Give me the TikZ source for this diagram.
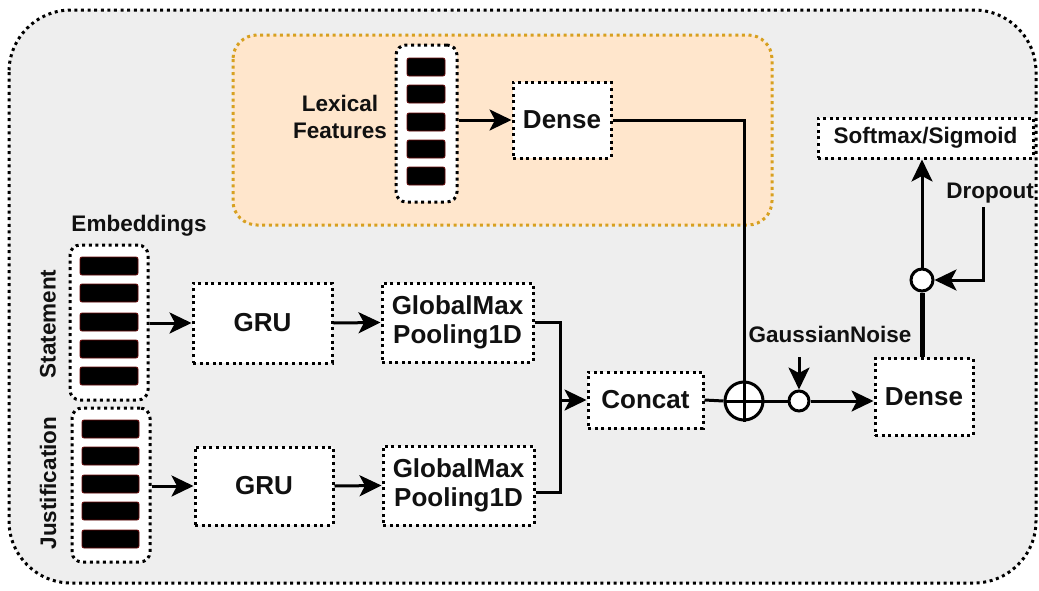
\documentclass[tikz,border=0pt]{standalone}
\usepackage{fontspec}
\setmainfont{Liberation Sans}
\usetikzlibrary{arrows.meta,calc}
\definecolor{panelgrey}{HTML}{EEEEEE}
\definecolor{lexfill}{HTML}{FFE6CC}
\definecolor{lexline}{HTML}{D7A020}
\definecolor{barline}{HTML}{6A0A0A}
\definecolor{ink}{HTML}{111111}
\begin{document}
\begin{tikzpicture}[x=1pt,y=-1pt,
  dots/.style={line width=3pt, line cap=butt, dash pattern=on 3pt off 3.6pt},
  box/.style={dots, draw=black, fill=white, inner sep=0pt, align=center, text=ink,
    font=\fontsize{26}{29}\selectfont\bfseries},
  vecbox/.style={dots, draw=black, fill=white, rounded corners=10pt},
  bar/.style={fill=black, draw=barline, line width=0.8pt, rounded corners=2pt},
  lbl/.style={font=\fontsize{22.5}{27}\selectfont\bfseries, align=center, inner sep=0pt, text=ink},
  conn/.style={line width=3pt, draw=black},
  arr/.style={conn, -{Stealth[length=22pt,width=21pt,inset=5.5pt]}},
  junction/.style={circle, draw=black, fill=white, line width=3pt, inner sep=0pt}]

\useasboundingbox (0,0) rectangle (1039,590);

% outer panel
\draw[dots, fill=panelgrey, rounded corners=62pt] (9,10) rectangle (1036,583);

% lexical feature branch panel
\draw[dots, draw=lexline, fill=lexfill, rounded corners=24pt] (233,35) rectangle (772,225);

% input vectors
\node[vecbox, minimum width=61pt, minimum height=157pt] (lex) at (426.5,123.5) {};
\node[vecbox, minimum width=78pt, minimum height=155pt] (stmt) at (109,322.5) {};
\node[vecbox, minimum width=78pt, minimum height=154pt] (just) at (111,485) {};
\foreach \t in {58,85,113,140,167}
  \draw[bar] (407,\t) rectangle (445,\t+18);
\foreach \t in {257,284,313,340,367}
  \draw[bar] (80,\t) rectangle (138,\t+18);
\foreach \t in {420,447,475,502,530}
  \draw[bar] (82,\t) rectangle (139,\t+18);

% labels
\node[lbl] (lexlbl) at (340,117) {Lexical\\Features};
\node[lbl] (emblbl) at (139,226) {Embeddings};
\node[lbl, rotate=90] (stmtlbl) at (48,324) {Statement};
\node[lbl, rotate=90] (justlbl) at (48,483) {Justification};
\node[lbl] (gnlbl) at (830,334) {GaussianNoise};
\node[lbl] (droplbl) at (990,193) {Dropout};

% layers
\node[box, minimum width=98pt, minimum height=76pt] (dense1) at (562,120) {Dense};
\node[box, minimum width=139pt, minimum height=80pt] (gru1) at (262.5,323) {GRU};
\node[box, minimum width=138pt, minimum height=78pt] (gru2) at (264,486) {GRU};
\node[box, minimum width=151pt, minimum height=79pt] (gm1) at (457.5,322.5) {GlobalMax\\Pooling1D};
\node[box, minimum width=151pt, minimum height=79pt] (gm2) at (458.5,485.5) {GlobalMax\\Pooling1D};
\node[box, minimum width=115pt, minimum height=56pt] (concat) at (645.5,400) {Concat};
\node[box, minimum width=98pt, minimum height=77pt] (dense2) at (924,397) {Dense};
\node[box, minimum width=215pt, minimum height=40pt, font=\fontsize{22.5}{27}\selectfont\bfseries] (soft) at (925.5,138) {Softmax/Sigmoid};

% merge points
\node[junction, minimum size=38pt] (oplus) at (744,401) {};
\node[junction, minimum size=20pt] (gc) at (799,401) {};
\node[junction, minimum size=22pt] (dc) at (922,280) {};
\draw[conn] (oplus.west) -- (oplus.east);
\draw[conn] (oplus.north) -- (oplus.south);

\coordinate (jn) at (560,400);
\coordinate (gtop) at (799,357);
\coordinate (dtop) at (983,207);

% connectors
\draw[arr] (lex.east |- dense1.west) -- (dense1.west);
\draw[conn] (dense1.east) -| (oplus.north);
\draw[arr] (stmt.east |- gru1.west) -- (gru1.west);
\draw[arr] (just.east |- gru2.west) -- (gru2.west);
\draw[arr] (gru1.east) -- (gm1.west);
\draw[arr] (gru2.east) -- (gm2.west);
\draw[conn] (gm1.east) -| (jn) |- ([yshift=-6.5pt]gm2.east);
\draw[arr] (jn) -- (concat.west);
\draw[conn] (concat.east) -- (oplus.west);
\draw[conn] (oplus.east) -- (gc.west);
\draw[arr] (gtop) -- (gc.north);
\draw[arr] (gc.east) -- (gc.east -| dense2.west);
\draw[line width=5pt] (dc.south) -- (dc.south |- dense2.north);
\draw[arr] (dc.north) -- (dc.north |- soft.south);
\draw[arr] (dtop) |- (dc.east);
\end{tikzpicture}
\end{document}
